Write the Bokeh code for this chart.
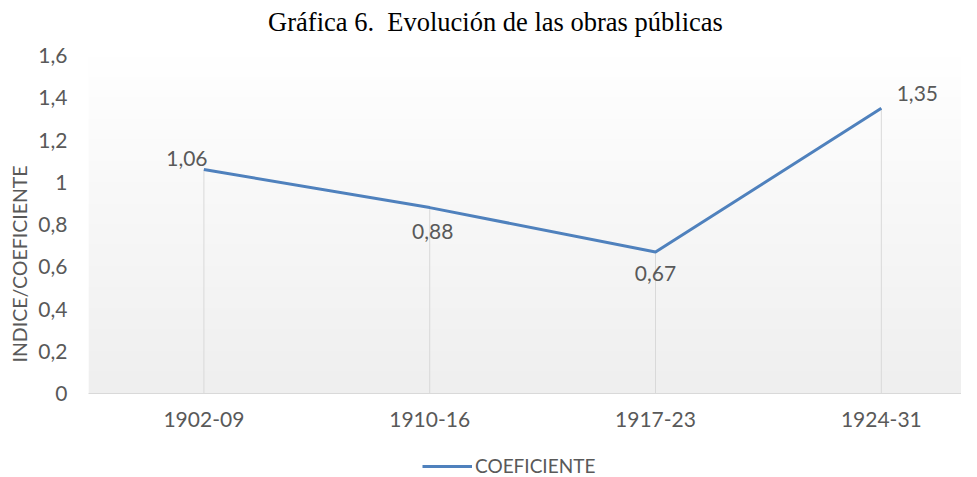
import numpy as np
from bokeh.plotting import figure
from bokeh.layouts import column
from bokeh.models import (ColumnDataSource, FixedTicker, CustomJSTickFormatter,
                          Range1d, Legend, LegendItem, Title, Label)
from bokeh.core.properties import value
from bokeh.embed import file_html
from bokeh.resources import INLINE

# ---- data ----
categories = ["1902-09", "1910-16", "1917-23", "1924-31"]
coeficiente = [1.06, 0.88, 0.67, 1.35]
y_ticks = [0, 0.2, 0.4, 0.6, 0.8, 1.0, 1.2, 1.4, 1.6]
series_name = "COEFICIENTE"
title_text = "Gráfica 6.\u00a0 Evolución de las obras públicas"
y_axis_title = "INDICE/COEFICIENTE"

# label placement offsets (pixels, screen: +x right, +y down) relative to each point
label_dx = [-17, 3, 0, 36]
label_dy = [-11, 24, 22, -15]

TEXT = "#595959"
FONT = "Lato"
LINE = "#4f81bd"
W = 961
HDR_H = 38

xs = list(range(len(categories)))
labels = [f"{v:.2f}".replace(".", ",") for v in coeficiente]

src = ColumnDataSource(dict(x=xs, y=coeficiente, lab=labels, dx=label_dx, dy=label_dy))

# ---- header with the chart title ----
hdr = figure(width=W, height=HDR_H, output_backend="svg", toolbar_location=None,
             x_range=Range1d(0, W), y_range=Range1d(0, HDR_H), min_border=0,
             x_axis_location=None, y_axis_location=None)
hdr.outline_line_color = None
hdr.grid.visible = False
hdr.add_layout(Label(x=448, y=HDR_H - 21, text=title_text, text_align="center",
                     text_baseline="middle", text_font="Liberation Serif",
                     text_font_size="26.5px", text_color="black"))

# ---- main chart ----
X0, X1 = -0.511, 3.355
p = figure(width=W, height=409, output_backend="svg", toolbar_location=None,
           x_range=Range1d(X0, X1), y_range=Range1d(0, 1.6),
           min_border_left=85, min_border_right=0, min_border_top=17, min_border_bottom=54)
p.background_fill_color = "white"
p.border_fill_color = "white"
p.outline_line_color = None
p.xgrid.visible = False
p.ygrid.visible = False

# gradient background of plot area
n = 200
g = np.linspace(239, 255, n).astype(np.uint32)
img = np.zeros((n, 1), dtype=np.uint32)
view = img.view(dtype=np.uint8).reshape((n, 1, 4))
view[:, 0, 0] = g
view[:, 0, 1] = g
view[:, 0, 2] = g
view[:, 0, 3] = 255
p.image_rgba(image=[img], x=X0, y=0, dw=X1 - X0, dh=1.6, level="image")

# drop lines
p.segment(x0=xs, y0=[0] * len(xs), x1=xs, y1=coeficiente, line_color="#d9d9d9", line_width=1)

# series line
r = p.line(x="x", y="y", source=src, line_color=LINE, line_width=3)

# data labels
p.text(x="x", y="y", text="lab", source=src, x_offset="dx", y_offset="dy",
       text_font=value(FONT), text_font_size="21px", text_color=TEXT,
       text_align="center", text_baseline="middle")

# x axis
xa = p.xaxis[0]
xa.ticker = FixedTicker(ticks=xs)
xa.major_label_overrides = {i: c for i, c in zip(xs, categories)}
xa.major_label_text_font = FONT
xa.major_label_text_font_size = "21px"
xa.major_label_text_color = TEXT
xa.major_label_standoff = 18
xa.major_tick_out = 0
xa.major_tick_in = 0
xa.minor_tick_out = 0
xa.minor_tick_in = 0
xa.axis_line_color = "#d9d9d9"

# y axis
ya = p.yaxis[0]
ya.ticker = FixedTicker(ticks=y_ticks)
ya.formatter = CustomJSTickFormatter(code="return (Math.round(tick*10)/10).toString().replace('.', ',');")
ya.major_label_text_font = FONT
ya.major_label_text_font_size = "21px"
ya.major_label_text_color = TEXT
ya.major_label_standoff = 21
ya.major_tick_out = 0
ya.major_tick_in = 0
ya.minor_tick_out = 0
ya.minor_tick_in = 0
ya.axis_line_color = None

# y axis title as a side title (allows the offset seen in the reference)
p.add_layout(Title(text=y_axis_title, align="left", offset=31, standoff=10,
                   text_font=FONT, text_font_size="19.5px", text_font_style="normal",
                   text_color=TEXT), "left")

# ---- legend strip below the chart ----
leg = figure(width=W, height=30, output_backend="svg", toolbar_location=None,
             x_range=Range1d(0, 1), y_range=Range1d(0, 1), min_border=0,
             x_axis_location=None, y_axis_location=None)
leg.outline_line_color = None
leg.grid.visible = False
# legend proxy: lies outside the visible range, only its style is used
proxy = leg.line(x=[5, 6], y=[5, 5], line_color=LINE, line_width=3)
legend = Legend(items=[LegendItem(label=series_name, renderers=[proxy])],
                orientation="horizontal", location=(334, 0),
                border_line_color=None, background_fill_alpha=0,
                label_text_font=FONT, label_text_font_size="19px",
                label_text_color=TEXT, glyph_width=50, glyph_height=18,
                padding=0, margin=0, spacing=0, label_standoff=3)
leg.add_layout(legend, "center")

layout = column(hdr, p, leg, spacing=0)
open("out.html", "w").write(file_html(layout, INLINE))
